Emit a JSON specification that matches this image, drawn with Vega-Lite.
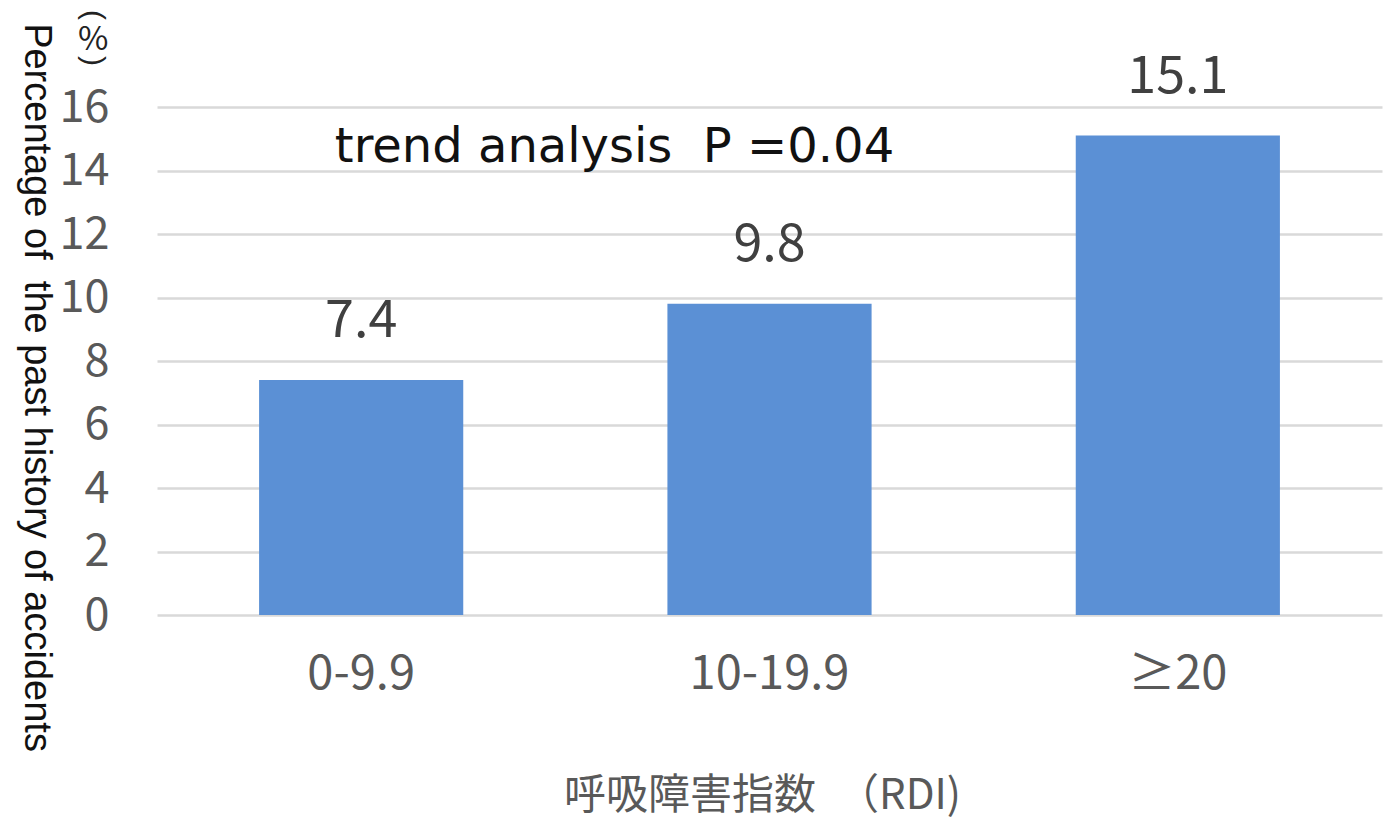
{
  "$schema": "https://vega.github.io/schema/vega-lite/v6.json",
  "autosize": "none",
  "width": 1225,
  "height": 508,
  "padding": {"left": 157, "top": 107, "right": 9, "bottom": 207},
  "background": "white",
  "data": {
    "values": [
      {"rdi": "0-9.9", "pct": 7.4},
      {"rdi": "10-19.9", "pct": 9.8},
      {"rdi": "≥20", "pct": 15.1}
    ]
  },
  "config": {
    "view": {"stroke": null},
    "font": "Noto Sans CJK JP"
  },
  "layer": [
    {
      "mark": {"type": "bar", "color": "#5B90D5"},
      "encoding": {
        "x": {
          "field": "rdi",
          "type": "nominal",
          "sort": null,
          "scale": {"paddingInner": 0.5, "paddingOuter": 0.25},
          "axis": {
            "title": "呼吸障害指数　（RDI)",
            "titleFont": "Noto Sans CJK JP",
            "titleFontSize": 42,
            "titleFontWeight": "normal",
            "titleColor": "#595959",
            "titleX": 605,
            "titleY": 160,
            "titleBaseline": "top",
            "titleAlign": "center",
            "labelAngle": 0,
            "labelFont": "Noto Sans CJK JP",
            "labelFontSize": 47,
            "labelColor": "#595959",
            "labelPadding": 36,
            "domain": false,
            "ticks": false,
            "grid": false
          }
        },
        "y": {
          "field": "pct",
          "type": "quantitative",
          "scale": {"domain": [0, 16], "nice": false},
          "axis": {
            "values": [0, 2, 4, 6, 8, 10, 12, 14, 16],
            "title": "Percentage of\u00a0 the past history of accidents",
            "titleFont": "Liberation Sans",
            "titleFontSize": 38,
            "titleFontWeight": "normal",
            "titleColor": "#111111",
            "titleAngle": 90,
            "titleAnchor": "middle",
            "titleBaseline": "middle",
            "titleX": -122,
            "titleY": 280,
            "labelFont": "Noto Sans CJK JP",
            "labelFontSize": 45,
            "labelColor": "#595959",
            "labelPadding": 48,
            "domain": false,
            "ticks": false,
            "grid": true,
            "gridColor": "#d9d9d9",
            "gridWidth": 2.5
          }
        }
      }
    },
    {
      "mark": {
        "type": "text",
        "font": "Noto Sans CJK JP",
        "fontSize": 52,
        "color": "#404040",
        "baseline": "alphabetic",
        "dy": -43
      },
      "encoding": {
        "x": {"field": "rdi", "type": "nominal", "sort": null},
        "y": {"field": "pct", "type": "quantitative"},
        "text": {"field": "pct", "type": "quantitative", "format": ".1f"}
      }
    },
    {
      "data": {"values": [{"note": "trend analysis\u00a0 P =0.04"}]},
      "mark": {
        "type": "text",
        "font": "DejaVu Sans",
        "fontSize": 48,
        "color": "#111111",
        "baseline": "alphabetic",
        "align": "center",
        "dx": -155,
        "dy": -8.5
      },
      "encoding": {
        "x": {"datum": "10-19.9", "type": "nominal"},
        "y": {"datum": 14, "type": "quantitative"},
        "text": {"field": "note", "type": "nominal"}
      }
    },
    {
      "data": {"values": [{"sym": "("}]},
      "mark": {
        "type": "text",
        "font": "Liberation Sans",
        "fontSize": 30,
        "angle": 90,
        "color": "#222222",
        "baseline": "middle",
        "align": "center",
        "dx": -92,
        "dy": 268
      },
      "encoding": {
        "x": {"datum": "0-9.9", "type": "nominal"},
        "y": {"datum": 16, "type": "quantitative"},
        "text": {"field": "sym", "type": "nominal"}
      }
    },
    {
      "data": {"values": [{"sym": "%"}]},
      "mark": {
        "type": "text",
        "font": "Noto Sans CJK JP",
        "fontSize": 33,
        "color": "#222222",
        "baseline": "middle",
        "align": "center",
        "dx": -268,
        "dy": -67
      },
      "encoding": {
        "x": {"datum": "0-9.9", "type": "nominal"},
        "y": {"datum": 16, "type": "quantitative"},
        "text": {"field": "sym", "type": "nominal"}
      }
    },
    {
      "data": {"values": [{"sym": ")"}]},
      "mark": {
        "type": "text",
        "font": "Liberation Sans",
        "fontSize": 30,
        "angle": 90,
        "color": "#222222",
        "baseline": "middle",
        "align": "center",
        "dx": -46,
        "dy": 268
      },
      "encoding": {
        "x": {"datum": "0-9.9", "type": "nominal"},
        "y": {"datum": 16, "type": "quantitative"},
        "text": {"field": "sym", "type": "nominal"}
      }
    }
  ]
}
